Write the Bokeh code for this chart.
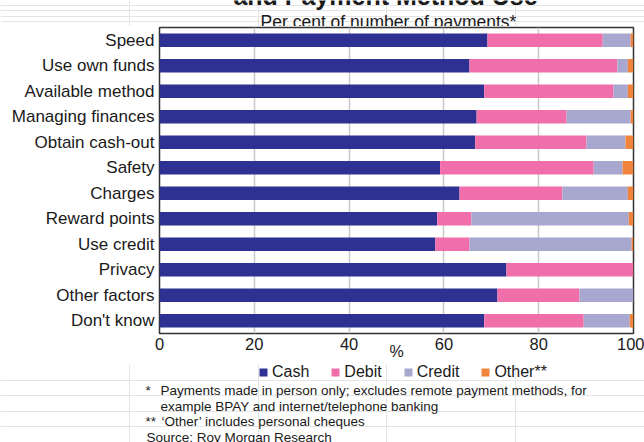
from bokeh.plotting import figure
from bokeh.layouts import column
from bokeh.models import (FactorRange, Range1d, Label, Legend, LegendItem,
                          ColumnDataSource)
from bokeh.embed import file_html
from bokeh.resources import INLINE

categories = ["Speed", "Use own funds", "Available method", "Managing finances",
              "Obtain cash-out", "Safety", "Charges", "Reward points",
              "Use credit", "Privacy", "Other factors", "Don't know"]
cash = [69.2, 65.4, 68.5, 66.9, 66.6, 59.2, 63.3, 58.6, 58.2, 73.2, 71.3, 68.5]
debit = [24.3, 31.2, 27.3, 19.0, 23.5, 32.4, 21.7, 7.2, 7.2, 26.7, 17.3, 21.0]
credit = [5.9, 2.2, 3.0, 13.5, 8.2, 6.1, 13.8, 33.2, 34.2, 0.0, 11.4, 9.7]
other = [0.6, 1.2, 1.2, 0.6, 1.7, 2.3, 1.2, 1.0, 0.4, 0.1, 0.0, 0.8]
series_keys = ["cash", "debit", "credit", "other"]
series_names = ["Cash", "Debit", "Credit", "Other**"]
series_colors = ["#2e3192", "#f06eaa", "#a7a7cf", "#f0843c"]
x_ticks = [0, 20, 40, 60, 80, 100]
grid_ticks = [20, 40, 60, 80]

FONT = "Liberation Sans"
TXT = "#1a1a1a"
W = 644
H_HEAD, H_MAIN, H_FOOT = 26, 338, 78


def blank(h):
    f = figure(width=W, height=h, x_range=Range1d(0, 1), y_range=Range1d(0, 1),
               output_backend="svg", toolbar_location=None,
               x_axis_location=None, y_axis_location=None, min_border=0)
    f.outline_line_color = None
    f.frame_align = False
    return f


def lab(f, h, text, px, py, size, align="left", bold=False):
    # px: page-x, py: baseline y relative to top of figure f (height h)
    f.add_layout(Label(x=px, y=h - py, x_units="screen", y_units="screen", text=text,
                       text_font=FONT, text_font_size=size, text_color=TXT,
                       text_align=align, text_baseline="alphabetic",
                       text_font_style="bold" if bold else "normal"))


# ---- header (titles; the first line is cut off at the top, as in the original) ----
head = blank(H_HEAD)
lab(head, H_HEAD, "and Payment Method Use", 385, -5, "25px", "center", bold=True)
lab(head, H_HEAD, "Per cent of number of payments*", 388, 21.5, "17.5px", "center")

# ---- main chart ----
source = ColumnDataSource(dict(cat=categories, cash=cash, debit=debit,
                               credit=credit, other=other))
p = figure(width=W, height=H_MAIN, y_range=FactorRange(factors=categories[::-1]),
           x_range=Range1d(0, 100), output_backend="svg", toolbar_location=None,
           min_border_left=159, min_border_right=11, min_border_top=1,
           min_border_bottom=31)
rs = p.hbar_stack(series_keys, y="cat", height=0.52,
                  fill_color=series_colors, line_color=None, source=source)
for ax in (p.xaxis[0], p.yaxis[0]):
    ax.axis_line_color = None
    ax.major_tick_line_color = None
    ax.minor_tick_line_color = None
    ax.major_tick_out = 0
    ax.major_tick_in = 0
    ax.major_label_text_font = FONT
    ax.major_label_text_color = TXT
p.xaxis.major_label_text_font_size = "16.5px"
p.yaxis.major_label_text_font_size = "17px"
p.xaxis.ticker = x_ticks
p.xaxis.major_label_standoff = 4
p.xaxis.axis_label = "%"
p.xaxis.axis_label_text_font = FONT
p.xaxis.axis_label_text_font_size = "16px"
p.xaxis.axis_label_text_font_style = "normal"
p.xaxis.axis_label_text_color = TXT
p.xaxis.axis_label_standoff = -10
p.yaxis.major_label_standoff = 5
p.xgrid.ticker = grid_ticks
p.xgrid.grid_line_color = "#c8c8c8"
p.xgrid.grid_line_width = 1.5
p.ygrid.grid_line_color = None
p.outline_line_color = "#333333"
p.outline_line_width = 1.5

# ---- footer (legend + notes) ----
foot = blank(H_FOOT)
# hidden legend proxies (same data) so the legend can sit below the chart
proxies = [foot.hbar(y="cash", right="cash", height=0.5, fill_color=c,
                     line_color=None, source=source, visible=False)
           for c in series_colors]
legend = Legend(items=[LegendItem(label=n, renderers=[r]) for n, r in zip(series_names, proxies)],
                orientation="horizontal", location=(258, 61),
                label_text_font=FONT, label_text_font_size="16px",
                label_text_color=TXT, glyph_width=10, glyph_height=10,
                label_height=10, label_standoff=4, spacing=21, padding=0, margin=0,
                border_line_color=None, background_fill_alpha=0,
                inactive_fill_alpha=0)
foot.add_layout(legend, "center")
FY = 364  # page y of footer top
def flab(text, px, py):
    lab(foot, H_FOOT, text, px, py - FY, "13.5px")
flab("*", 145, 390)
flab("Payments made in person only; excludes remote payment methods, for", 160, 390)
flab("example BPAY and internet/telephone banking", 160, 406)
flab("**", 145, 421)
flab("\u2018Other\u2019 includes personal cheques", 161, 421)
flab("Source: Roy Morgan Research", 146, 436.7)

layout = column(head, p, foot, spacing=0)
open("out.html", "w").write(file_html(layout, INLINE))
